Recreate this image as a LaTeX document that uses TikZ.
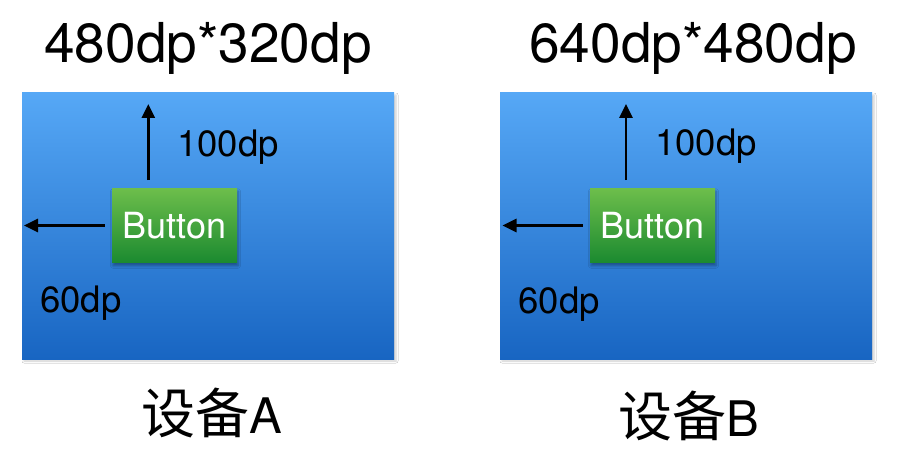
\documentclass[tikz,border=0pt]{standalone}
\usepackage{fontspec}
\setmainfont{TeX Gyre Heros}
\newfontfamily\cjk{Noto Sans CJK SC}
\usetikzlibrary{arrows.meta,calc,shadows.blur}
\definecolor{scrtop}{HTML}{56A8F6}
\definecolor{scrbot}{HTML}{1865C2}
\definecolor{btntop}{HTML}{6DBE4B}
\definecolor{btnbot}{HTML}{1B8A30}
\tikzset{
  screen/.style={rectangle, inner sep=0, minimum width=372pt, minimum height=266pt,
    top color=scrtop, bottom color=scrbot, draw=none,
    blur shadow={shadow xshift=2pt, shadow yshift=-2pt, shadow blur radius=2pt, shadow opacity=20}},
  btn/.style={rectangle, inner sep=0, minimum width=125pt, minimum height=74.5pt,
    top color=btntop, bottom color=btnbot, draw=none, text=white,
    font=\fontsize{36}{40}\selectfont,
    blur shadow={shadow xshift=1pt, shadow yshift=-3pt, shadow blur radius=2.5pt, shadow opacity=35}},
  arr/.style={line width=2.6pt, -{Triangle[length=14pt,width=13pt]}},
  dim/.style={inner sep=0, anchor=base west, font=\fontsize{36.5}{40}\selectfont},
  title/.style={inner sep=0, anchor=base, font=\fontsize{55}{60}\selectfont},
  dev/.style={inner sep=0, anchor=base}
}
\begin{document}
\begin{tikzpicture}[x=1pt,y=-1pt]
\useasboundingbox[fill=white] (0,0) rectangle (906,452);
% device A
\node[screen] (boxA) at (208,226) {};
\node[btn] (btnA) at (174.5,225.5) {Button};
\coordinate (tipUpA) at (148.3,104);
\coordinate (tipLA) at (24,225.5);
\draw[arr] ($(btnA.north west -| tipUpA)+(0,-8)$) -- (tipUpA);
\draw[arr] ($(btnA.west)+(-7,0)$) -- (btnA.west -| tipLA);
\node[dim] (upA) at (177,156.7) {100dp};
\node[dim] (leftA) at (40,312.5) {60dp};
\node[title] (titleA) at (208,62.3) {480dp*320dp};
\node[dev] (devA) at (212,433.3) {{\cjk\fontsize{54}{60}\selectfont 设备}{\fontsize{49}{55}\selectfont A}};
% device B
\node[screen] (boxB) at (686,226) {};
\node[btn] (btnB) at (652.5,225.5) {Button};
\coordinate (tipUpB) at (626,104);
\coordinate (tipLB) at (502.5,225.7);
\draw[arr] ($(btnB.north west -| tipUpB)+(0,-8)$) -- (tipUpB);
\draw[arr] ($(btnB.west)+(-7,0)$) -- (btnB.west -| tipLB);
\node[dim] (upB) at (655,155.7) {100dp};
\node[dim] (leftB) at (518.5,313) {60dp};
\node[title] (titleB) at (693,62.3) {640dp*480dp};
\node[dev] (devB) at (689,436.7) {{\cjk\fontsize{54}{60}\selectfont 设备}{\fontsize{49}{55}\selectfont B}};
\end{tikzpicture}
\end{document}
